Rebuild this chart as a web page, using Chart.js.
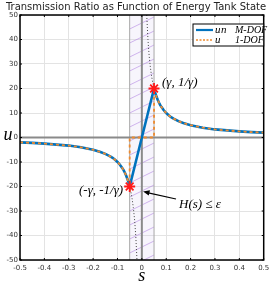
<!DOCTYPE html>
<html>
<head>
<meta charset="utf-8">
<script src="https://cdn.jsdelivr.net/npm/chart.js@4"></script>
<style>
  html, body { margin: 0; padding: 0; background: #fff; }
  #wrap { width: 271px; height: 286px; }
</style>
</head>
<body>
<div id="wrap"><canvas id="chart" width="271" height="286"></canvas></div>
<script>
// ---------------------------
// DATA
// ---------------------------
const titleText = "Transmission Ratio as Function of Energy Tank State";
const xTicks = [-0.5, -0.4, -0.3, -0.2, -0.1, 0, 0.1, 0.2, 0.3, 0.4, 0.5];
const yTicks = [-50, -40, -30, -20, -10, 0, 10, 20, 30, 40, 50];

// left branch
const negS = [-0.5, -0.45, -0.4, -0.35, -0.3, -0.25, -0.2, -0.17, -0.15, -0.13, -0.12, -0.11, -0.1, -0.09, -0.08, -0.075, -0.07, -0.065, -0.06, -0.055, -0.05];
const negU = [-2, -2.2, -2.5, -2.9, -3.3, -4, -5, -5.9, -6.7, -7.7, -8.3, -9.1, -10, -11.1, -12.5, -13.3, -14.3, -15.4, -16.7, -18.2, -20];
// right branch
const posS = [0.05, 0.055, 0.06, 0.065, 0.07, 0.075, 0.08, 0.09, 0.1, 0.11, 0.12, 0.13, 0.15, 0.17, 0.2, 0.25, 0.3, 0.35, 0.4, 0.45, 0.5];
const posU = [20, 18.2, 16.7, 15.4, 14.3, 13.3, 12.5, 11.1, 10, 9.1, 8.3, 7.7, 6.7, 5.9, 5, 4, 3.3, 2.9, 2.5, 2.2, 2];
// 1-DOF jump inside the band
const jumpS = [-0.05, -0.05, 0.05, 0.05];
const jumpU = [-20, 0, 0, 20];
// dotted continuation inside the band
const dotS = [-0.05, -0.045, -0.04, -0.035, -0.03, -0.025, -0.02, null, 0.02, 0.025, 0.03, 0.035, 0.04, 0.045, 0.05];
const dotU = [-20, -22.2, -25, -28.6, -33.3, -40, -50, null, 50, 40, 33.3, 28.6, 25, 22.2, 20];
// marked points
const markS = [-0.05, 0.05];
const markU = [-20, 20];
const bandS = [-0.05, 0.05];

const legendLabels = [["u", "n", "M-DOF"], ["u", "", "1-DOF"]];

function pts(xs, ys) {
  return xs.map((x, i) => ({ x: x, y: ys[i] }));
}

const blueData = pts(negS, negU).concat(pts(posS, posU));
const orangeData = pts(negS, negU).concat(pts(jumpS.slice(1), jumpU.slice(1)), pts(posS.slice(1), posU.slice(1)));

const BLUE = "#0072BD";
const ORANGE = "#EE8A2E";

// ---------------------------
// DRAWING EXTRAS
// ---------------------------
const extras = {
  id: "extras",
  beforeDatasetsDraw(chart) {
    const c = chart.ctx, xs = chart.scales.x, ys = chart.scales.y, a = chart.chartArea;
    const x1 = xs.getPixelForValue(bandS[0]), x2 = xs.getPixelForValue(bandS[1]);
    c.save();
    // hatched band
    c.fillStyle = "rgba(200,185,235,0.15)";
    c.fillRect(x1, a.top, x2 - x1, a.bottom - a.top);
    c.beginPath();
    c.rect(x1, a.top, x2 - x1, a.bottom - a.top);
    c.clip();
    c.strokeStyle = "rgba(175,125,225,0.7)";
    c.lineWidth = 0.8;
    for (let y = a.top - 40; y < a.bottom + 40; y += 14) {
      c.beginPath();
      c.moveTo(x1, y + 12);
      c.lineTo(x2, y);
      c.stroke();
    }
    c.restore();
    c.save();
    c.strokeStyle = "#a8a8a8";
    c.lineWidth = 1;
    [x1, x2].forEach(x => {
      c.beginPath(); c.moveTo(x, a.top); c.lineTo(x, a.bottom); c.stroke();
    });
    // zero lines
    c.strokeStyle = "#8a8a8a";
    c.lineWidth = 2;
    const x0 = xs.getPixelForValue(0), y0 = ys.getPixelForValue(0);
    c.beginPath(); c.moveTo(x0, a.top); c.lineTo(x0, a.bottom); c.stroke();
    c.beginPath(); c.moveTo(a.left, y0); c.lineTo(a.right, y0); c.stroke();
    c.restore();
  },
  afterDraw(chart) {
    const c = chart.ctx, xs = chart.scales.x, ys = chart.scales.y, a = chart.chartArea;
    c.save();
    // box
    c.strokeStyle = "#000";
    c.lineWidth = 1.5;
    c.strokeRect(a.left, a.top, a.right - a.left, a.bottom - a.top);
    // small inward ticks
    c.lineWidth = 1;
    xTicks.forEach(v => {
      const x = xs.getPixelForValue(v);
      c.beginPath(); c.moveTo(x, a.bottom); c.lineTo(x, a.bottom - 2); c.stroke();
      c.beginPath(); c.moveTo(x, a.top); c.lineTo(x, a.top + 2); c.stroke();
    });
    yTicks.forEach(v => {
      const y = ys.getPixelForValue(v);
      c.beginPath(); c.moveTo(a.left, y); c.lineTo(a.left + 2, y); c.stroke();
      c.beginPath(); c.moveTo(a.right, y); c.lineTo(a.right - 2, y); c.stroke();
    });

    // title
    c.fillStyle = "#222";
    c.font = "10px 'DejaVu Sans'";
    c.textAlign = "center";
    c.textBaseline = "middle";
    c.fillText(titleText, 136, 7);

    // axis labels
    c.fillStyle = "#000";
    c.font = "italic 18px 'Liberation Serif'";
    c.fillText("u", 8, 135);
    c.fillText("s", xs.getPixelForValue(0), 276);

    // annotations
    c.font = "italic 13px 'Liberation Serif'";
    c.textAlign = "left";
    c.fillText("(\u03B3, 1/\u03B3)", 162, 83);
    c.fillText("(-\u03B3, -1/\u03B3)", 79, 191);
    c.fillText("H(s) \u2264 \u03B5", 179, 205);

    // arrow
    const ax = xs.getPixelForValue(0.005), ay = ys.getPixelForValue(-22);
    const tx = 176, ty = 199;
    c.strokeStyle = "#000";
    c.lineWidth = 1.2;
    c.beginPath(); c.moveTo(tx, ty); c.lineTo(ax + 3, ay + 1); c.stroke();
    const ang = Math.atan2(ay - ty, ax - tx);
    c.beginPath();
    c.moveTo(ax, ay);
    c.lineTo(ax - 7 * Math.cos(ang - 0.4), ay - 7 * Math.sin(ang - 0.4));
    c.lineTo(ax - 7 * Math.cos(ang + 0.4), ay - 7 * Math.sin(ang + 0.4));
    c.closePath();
    c.fillStyle = "#000";
    c.fill();

    // legend
    const lx = 193, ly = 24, lw = a.right - lx, lh = 22;
    c.fillStyle = "#fff";
    c.fillRect(lx, ly, lw, lh);
    c.strokeStyle = "#000";
    c.lineWidth = 1;
    c.strokeRect(lx, ly, lw, lh);
    legendLabels.forEach((lab, i) => {
      const y = ly + 6 + i * 10;
      c.beginPath();
      c.lineWidth = i === 0 ? 2.2 : 1.6;
      c.strokeStyle = i === 0 ? BLUE : ORANGE;
      c.setLineDash(i === 0 ? [] : [2, 1.5]);
      c.moveTo(lx + 3, y); c.lineTo(lx + 20, y); c.stroke();
      c.setLineDash([]);
      c.fillStyle = "#000";
      c.font = "italic 11px 'Liberation Serif'";
      c.fillText(lab[0], lx + 22, y);
      if (lab[1]) c.fillText(lab[1], lx + 28, y);
      c.font = "italic 10px 'Liberation Serif'";
      c.fillText(lab[2], lx + 42, y);
    });
    c.restore();
  }
};

// ---------------------------
// CHART
// ---------------------------
new Chart(document.getElementById("chart"), {
  type: "scatter",
  data: {
    datasets: [
      {
        label: "dotted",
        data: pts(dotS, dotU),
        showLine: true,
        spanGaps: false,
        borderColor: "#444",
        borderWidth: 1,
        borderDash: [1, 2],
        pointRadius: 0,
        order: 4
      },
      {
        label: "un M-DOF",
        data: blueData,
        showLine: true,
        borderColor: BLUE,
        borderWidth: 2.6,
        pointRadius: 0,
        order: 3
      },
      {
        label: "u 1-DOF",
        data: orangeData,
        showLine: true,
        borderColor: ORANGE,
        borderWidth: 1.8,
        borderDash: [3, 3],
        pointRadius: 0,
        order: 2
      },
      {
        label: "marks",
        data: pts(markS, markU),
        pointStyle: "star",
        pointRadius: 5.5,
        borderColor: "#ff1a1a",
        borderWidth: 1.8,
        backgroundColor: "#ff1a1a",
        order: 1
      }
    ]
  },
  options: {
    responsive: false,
    animation: false,
    layout: { padding: { left: 0, right: 5, top: 15, bottom: 0 } },
    plugins: { legend: { display: false }, tooltip: { enabled: false }, title: { display: false } },
    scales: {
      x: {
        type: "linear",
        min: -0.5,
        max: 0.5,
        afterBuildTicks: s => { s.ticks = xTicks.map(v => ({ value: v })); },
        afterFit: s => { s.height = 26; s.paddingLeft = 0; s.paddingRight = 0; },
        grid: { color: "#e3e3e3", drawTicks: false },
        border: { display: false },
        ticks: {
          padding: 4,
          color: "#333",
          font: { family: "DejaVu Sans", size: 7 },
          maxRotation: 0,
          callback: v => String(Math.round(v * 10) / 10)
        }
      },
      y: {
        type: "linear",
        min: -50,
        max: 50,
        afterBuildTicks: s => { s.ticks = yTicks.map(v => ({ value: v })); },
        afterFit: s => { s.width = 20; },
        grid: { color: "#e3e3e3", drawTicks: false },
        border: { display: false },
        ticks: {
          padding: 2,
          color: "#333",
          font: { family: "DejaVu Sans", size: 7 }
        }
      }
    }
  },
  plugins: [extras]
});
</script>
</body>
</html>
